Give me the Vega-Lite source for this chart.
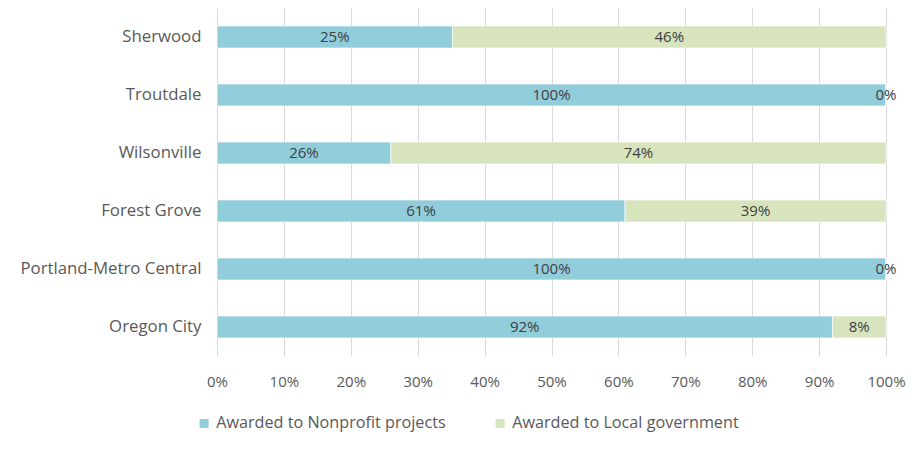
{
  "$schema": "https://vega.github.io/schema/vega-lite/v6.json",
  "width": 669,
  "height": 348,
  "autosize": {"type": "none"},
  "padding": {"left": 217, "top": 8, "right": 30, "bottom": 95},
  "background": "white",
  "config": {"font": "Open Sans", "view": {"stroke": null}},
  "data": {
    "values": [
      {"city": "Sherwood", "type": "Awarded to Nonprofit projects", "value": 0.25},
      {"city": "Sherwood", "type": "Awarded to Local government", "value": 0.46},
      {"city": "Troutdale", "type": "Awarded to Nonprofit projects", "value": 1.0},
      {"city": "Troutdale", "type": "Awarded to Local government", "value": 0.0},
      {"city": "Wilsonville", "type": "Awarded to Nonprofit projects", "value": 0.26},
      {"city": "Wilsonville", "type": "Awarded to Local government", "value": 0.74},
      {"city": "Forest Grove", "type": "Awarded to Nonprofit projects", "value": 0.61},
      {"city": "Forest Grove", "type": "Awarded to Local government", "value": 0.39},
      {"city": "Portland-Metro Central", "type": "Awarded to Nonprofit projects", "value": 1.0},
      {"city": "Portland-Metro Central", "type": "Awarded to Local government", "value": 0.0},
      {"city": "Oregon City", "type": "Awarded to Nonprofit projects", "value": 0.92},
      {"city": "Oregon City", "type": "Awarded to Local government", "value": 0.08}
    ]
  },
  "transform": [
    {"stack": "value", "groupby": ["city"], "sort": [{"field": "type", "order": "descending"}], "offset": "normalize", "as": ["v0", "v1"]},
    {"calculate": "(datum.v0 + datum.v1) / 2", "as": "mid"}
  ],
  "encoding": {
    "y": {
      "field": "city",
      "type": "nominal",
      "sort": ["Sherwood", "Troutdale", "Wilsonville", "Forest Grove", "Portland-Metro Central", "Oregon City"],
      "scale": {"paddingInner": 0.62, "paddingOuter": 0.31},
      "axis": {"title": null, "ticks": false, "domain": false, "labelFontSize": 16.8, "labelColor": "#595959", "labelPadding": 16, "labelLimit": 250}
    }
  },
  "layer": [
    {
      "mark": {"type": "bar", "stroke": "white", "strokeWidth": 0.7},
      "encoding": {
        "x": {
          "field": "v0",
          "type": "quantitative",
          "scale": {"domain": [0, 1], "nice": false},
          "axis": {
            "title": null,
            "format": ".0%",
            "values": [0, 0.1, 0.2, 0.3, 0.4, 0.5, 0.6, 0.7, 0.8, 0.9, 1],
            "grid": true,
            "gridColor": "#d9d9d9",
            "domain": false,
            "ticks": false,
            "labelFontSize": 15,
            "labelColor": "#595959",
            "labelPadding": 18,
            "labelFlush": false
          }
        },
        "x2": {"field": "v1"},
        "color": {
          "field": "type",
          "type": "nominal",
          "scale": {"domain": ["Awarded to Nonprofit projects", "Awarded to Local government"], "range": ["#92CDDC", "#D7E4BD"]},
          "legend": {
            "title": null,
            "orient": "none",
            "direction": "horizontal",
            "legendX": -21,
            "legendY": 407,
            "symbolType": "square",
            "symbolSize": 81,
            "symbolStrokeWidth": 0,
            "labelFontSize": 16.2,
            "labelColor": "#595959",
            "labelOffset": 4,
            "columnPadding": 46,
            "labelLimit": 400
          }
        }
      }
    },
    {
      "mark": {"type": "text", "fontSize": 15, "color": "#404040"},
      "encoding": {
        "x": {"field": "mid", "type": "quantitative"},
        "text": {"field": "value", "type": "quantitative", "format": ".0%"}
      }
    }
  ]
}
